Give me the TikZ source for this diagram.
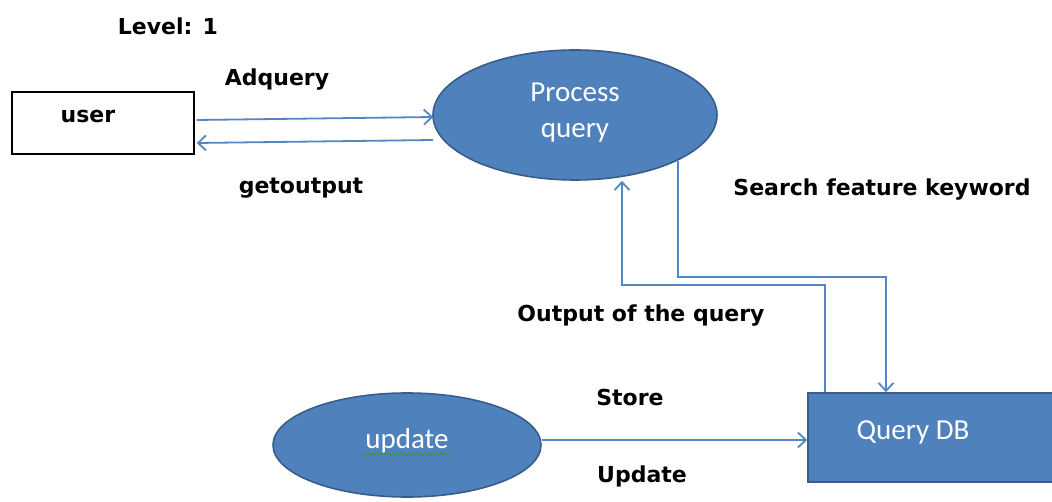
\documentclass[tikz,border=0pt]{standalone}
\usepackage{fontspec}
\newfontfamily\lblfont{DejaVu Sans}
\newfontfamily\calfont{Carlito}
\usetikzlibrary{arrows.meta,shapes.geometric,calc,decorations.pathmorphing}
\definecolor{fillcol}{RGB}{79,129,189}
\definecolor{bordcol}{RGB}{56,93,138}
\definecolor{linecol}{RGB}{84,134,196}
\definecolor{spellcol}{RGB}{60,150,60}
\begin{document}
\begin{tikzpicture}[x=1pt,y=-1pt,
  lbl/.style={font=\lblfont\bfseries\fontsize{22}{26}\selectfont, text=black, inner sep=0pt},
  whitetxt/.style={font=\calfont\fontsize{29}{36}\selectfont, text=white, inner sep=0pt},
  blueshape/.style={fill=fillcol, draw=bordcol, line width=1.6pt, inner sep=0pt},
  flow/.style={draw=linecol, line width=1.8pt, -{Straight Barb[length=8pt,width=15pt]}}
]
\useasboundingbox (0,0) rectangle (1052,502);
\fill[white] (0,0) rectangle (1052,502);

% nodes
\node[lbl] (level) at (168,26) {Level: 1};
\node[draw=black, line width=1.4pt, fill=white, minimum width=182pt, minimum height=62pt, inner sep=0pt] (user) at (103,123) {};
\node[lbl] (usertxt) at (88,116) {user};
\node[ellipse, blueshape, minimum width=284pt, minimum height=130pt] (proc) at (575,115) {};
\node[whitetxt, align=center] (proctxt) at (575,113) {Process\\query};
\node[blueshape, minimum width=252pt, minimum height=89pt] (db) at (934,437.5) {};
\node[whitetxt] (dbtxt) at (913,432) {Query DB};
\node[ellipse, blueshape, minimum width=268pt, minimum height=104pt] (upd) at (407,445) {};
\node[whitetxt] (updtxt) at (407,441) {update};
\draw[spellcol, line width=0.9pt, decorate, decoration={snake,amplitude=1.3pt,segment length=4pt}] (363,454) -- (451,454);

% labels
\node[lbl] (adq) at (277,80) {Adquery};
\node[lbl] (getout) at (301,188) {getoutput};
\node[lbl] (search) at (882,190) {Search feature keyword};
\node[lbl] (outq) at (641,316) {Output of the query};
\node[lbl] (store) at (630,397) {Store};
\node[lbl] (updl) at (642,476) {Update};

% connectors
\draw[flow] ($(user.east)+(2,-3)$) -- ($(proc.west)+(1,2)$);
\draw[flow] ($(proc.west)+(1,25)$) -- ($(user.east)+(2,20)$);
\coordinate (outA) at (825,285);
\coordinate (outB) at (622,285);
\draw[flow] (db.north -| outA) -- (outA) -- (outB) -- (proc.south -| outB);
\coordinate (srB) at (886,277);
\draw[flow] (proc.-24.7) |- (srB) -- (db.north -| srB);
\draw[flow] ($(upd.east)+(0,-5)$) coordinate (ua) -- (db.west |- ua);
\end{tikzpicture}
\end{document}
